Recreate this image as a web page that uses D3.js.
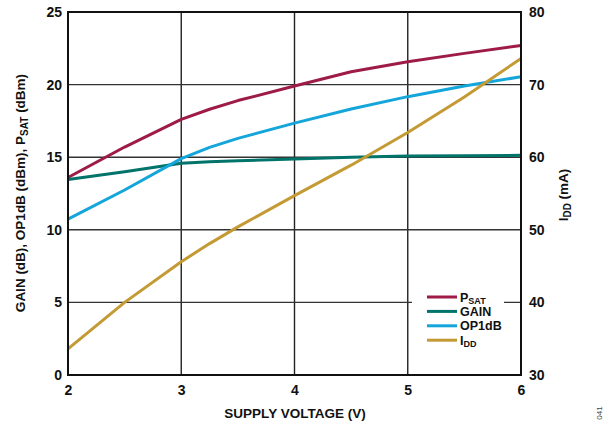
<!DOCTYPE html>
<html><head><meta charset="utf-8">
<script src="https://cdn.jsdelivr.net/npm/d3@7"></script>
<style>body{margin:0;background:#fff}svg{display:block;font-family:"Liberation Sans",Arial,sans-serif;font-weight:bold}</style>
</head><body>
<svg id="c" width="614" height="429"></svg>
<script>
const voltage = [2, 2.5, 3, 3.25, 3.5, 4, 4.5, 5, 5.5, 6];
const psat  = [13.6, 15.7, 17.6, 18.3, 18.9, 19.9, 20.88, 21.58, 22.15, 22.7];
const gain  = [13.47, 14.0, 14.58, 14.68, 14.75, 14.88, 15.0, 15.08, 15.1, 15.13];
const op1db = [10.74, 12.74, 14.9, 15.68, 16.3, 17.35, 18.32, 19.17, 19.9, 20.54];
const idd   = [33.6, 40.0, 45.6, 48.1, 50.4, 54.7, 58.9, 63.4, 68.3, 73.6];
const xTicks = [2, 3, 4, 5, 6];
const yLeftTicks = [0, 5, 10, 15, 20, 25];
const yRightTicks = [30, 40, 50, 60, 70, 80];

const svg = d3.select("#c");
const L = 68, R = 521, T = 12, B = 375;
const x = d3.scaleLinear().domain([2, 6]).range([L, R]);
const yL = d3.scaleLinear().domain([0, 25]).range([B, T]);
const yR = d3.scaleLinear().domain([30, 80]).range([B, T]);

// grid
const g = svg.append("g");
g.selectAll(".vg").data(xTicks.slice(1, -1)).join("line")
  .attr("x1", d => x(d)).attr("x2", d => x(d)).attr("y1", T).attr("y2", B)
  .attr("stroke", "#222").attr("stroke-width", 1.4);
g.selectAll(".hg").data(yLeftTicks.slice(1, -1)).join("line")
  .attr("x1", L).attr("x2", R).attr("y1", d => yL(d)).attr("y2", d => yL(d))
  .attr("stroke", "#333").attr("stroke-width", 1.4);

// legend background (covers gridline)
svg.append("rect").attr("x", 412).attr("y", 284).attr("width", 92).attr("height", 70).attr("fill", "#fff");

// series
const series = [
  {name: "P", sub: "SAT", vals: psat, axis: yL, color: "#9e1b47"},
  {name: "GAIN", sub: "", vals: gain, axis: yL, color: "#00736a"},
  {name: "OP1dB", sub: "", vals: op1db, axis: yL, color: "#14a5db"},
  {name: "I", sub: "DD", vals: idd, axis: yR, color: "#c49a34"}
];
series.forEach(s => {
  const line = d3.line().x((d, i) => x(voltage[i])).y(d => s.axis(d));
  svg.append("path").datum(s.vals).attr("d", line)
    .attr("fill", "none").attr("stroke", s.color).attr("stroke-width", 3)
    .attr("stroke-linejoin", "round");
});

// frame
svg.append("rect").attr("x", L).attr("y", T).attr("width", R - L).attr("height", B - T)
  .attr("fill", "none").attr("stroke", "#111").attr("stroke-width", 2);

// axes (labels only)
const axB = svg.append("g").attr("transform", `translate(0,${B})`)
  .call(d3.axisBottom(x).tickValues(xTicks).tickSize(0).tickPadding(10).tickFormat(d3.format("d")));
const axLft = svg.append("g").attr("transform", `translate(${L},0)`)
  .call(d3.axisLeft(yL).tickValues(yLeftTicks).tickSize(0).tickPadding(6));
const axRgt = svg.append("g").attr("transform", `translate(${R},0)`)
  .call(d3.axisRight(yR).tickValues(yRightTicks).tickSize(0).tickPadding(8));
[axB, axLft, axRgt].forEach(a => {
  a.select(".domain").remove();
  a.selectAll("text").attr("font-size", 14).attr("font-weight", "bold")
    .attr("font-family", "Liberation Sans, Arial, sans-serif").attr("fill", "#111");
});

// titles
svg.append("text").attr("x", 295).attr("y", 418).attr("text-anchor", "middle")
  .attr("font-size", 13.5).attr("fill", "#111").text("SUPPLY VOLTAGE (V)");

const lt = svg.append("text").attr("transform", "translate(25,193) rotate(-90)")
  .attr("text-anchor", "middle").attr("font-size", 13.5).attr("fill", "#111");
lt.append("tspan").text("GAIN (dB), OP1dB (dBm), P");
lt.append("tspan").attr("font-size", 10).attr("dy", 3).text("SAT");
lt.append("tspan").attr("dy", -3).text(" (dBm)");

const rt = svg.append("text").attr("transform", "translate(568,195) rotate(-90)")
  .attr("text-anchor", "middle").attr("font-size", 13.5).attr("fill", "#111");
rt.append("tspan").text("I");
rt.append("tspan").attr("font-size", 10).attr("dy", 3).text("DD");
rt.append("tspan").attr("dy", -3).text(" (mA)");

// legend
const leg = svg.append("g");
series.forEach((s, i) => {
  const yy = 297 + i * 14.4;
  leg.append("line").attr("x1", 427).attr("x2", 457).attr("y1", yy).attr("y2", yy)
    .attr("stroke", s.color).attr("stroke-width", 3);
  const t = leg.append("text").attr("x", 460).attr("y", yy + 4.5).attr("font-size", 12.5).attr("fill", "#111");
  t.append("tspan").text(s.name);
  if (s.sub) t.append("tspan").attr("font-size", 9).attr("dy", 2).text(s.sub);
});

// figure number
svg.append("text").attr("transform", "translate(602,413) rotate(-90)")
  .attr("text-anchor", "middle").attr("font-size", 8).attr("font-weight", "normal")
  .attr("fill", "#444").text("041");
</script>
</body></html>
